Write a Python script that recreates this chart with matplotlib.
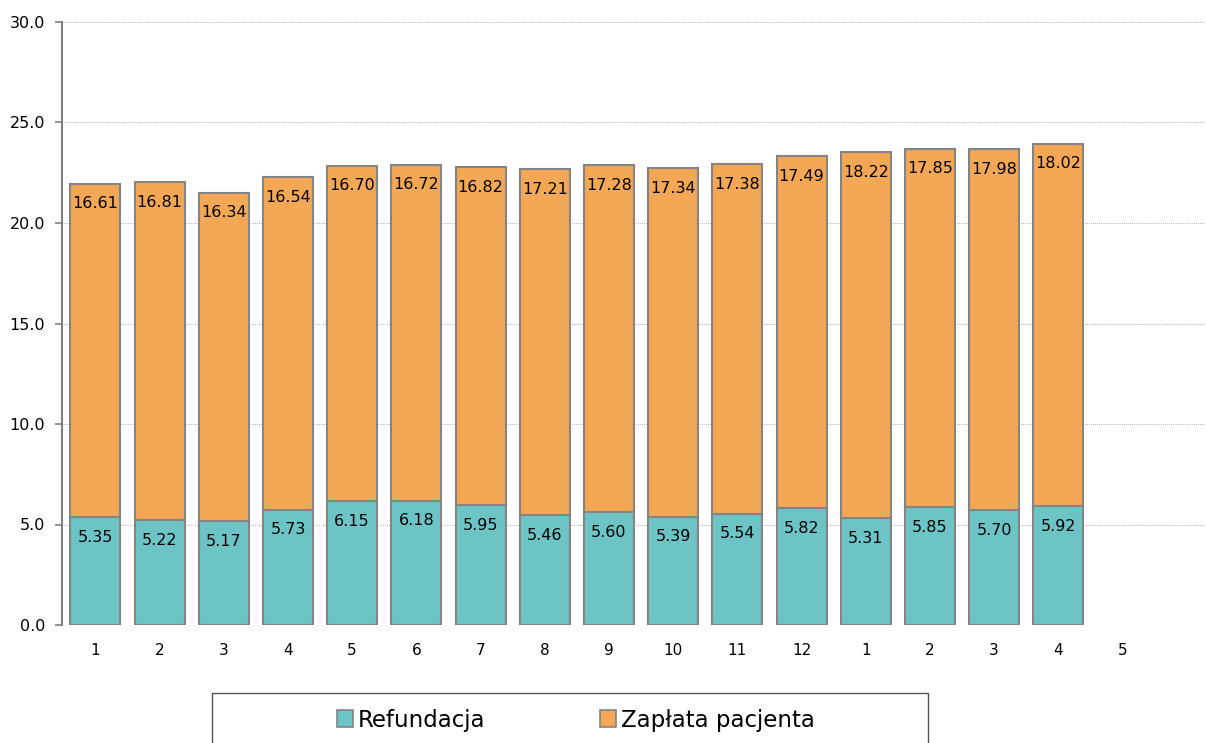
import matplotlib
matplotlib.use("Agg")
import matplotlib.pyplot as plt
from matplotlib.patches import Rectangle, Patch
import numpy as np

# month labels (last one has no data yet)
months = ["1", "2", "3", "4", "5", "6", "7", "8", "9", "10", "11", "12",
          "1", "2", "3", "4", "5"]
refundacja = [5.35, 5.22, 5.17, 5.73, 6.15, 6.18, 5.95, 5.46, 5.60, 5.39,
              5.54, 5.82, 5.31, 5.85, 5.70, 5.92]
zaplata = [16.61, 16.81, 16.34, 16.54, 16.70, 16.72, 16.82, 17.21, 17.28,
           17.34, 17.38, 17.49, 18.22, 17.85, 17.98, 18.02]

teal = "#6cc4c6"
orange = "#f4a755"
edge = "#848484"

fig = plt.figure(figsize=(12.06, 7.43), dpi=100)
ax = fig.add_axes([62 / 1206, 1 - 625 / 743, (1206 - 62) / 1206, (625 - 22) / 743])

x = np.arange(len(refundacja))
ax.bar(x, refundacja, width=0.78, color=teal, edgecolor=edge, linewidth=1.5, zorder=3)
ax.bar(x, zaplata, width=0.78, bottom=refundacja, color=orange, edgecolor=edge,
       linewidth=1.5, zorder=3)

for i in range(len(refundacja)):
    ax.annotate("%.2f" % refundacja[i], (x[i], refundacja[i]), xytext=(0, -9),
                textcoords="offset points", ha="center", va="top", fontsize=11.5, zorder=4)
    top = refundacja[i] + zaplata[i]
    ax.annotate("%.2f" % zaplata[i], (x[i], top), xytext=(0, -9),
                textcoords="offset points", ha="center", va="top", fontsize=11.5, zorder=4)

ax.set_xlim(-0.52, 17.3)
ax.set_ylim(0, 30)
ax.set_xticks(np.arange(len(months)))
ax.set_xticklabels(months)
ax.set_yticks(np.arange(0, 31, 5))
ax.set_yticklabels(["%.1f" % v for v in np.arange(0, 31, 5)])
ax.tick_params(axis="x", length=0, pad=13, labelsize=11)
ax.tick_params(axis="y", length=5, width=1.2, color="#808080", labelsize=11.5, pad=7)
ax.yaxis.grid(True, linestyle=(0, (1, 1)), color="#b8b8b8", linewidth=0.7, zorder=0)
for s in ["top", "right", "bottom"]:
    ax.spines[s].set_visible(False)
ax.spines["left"].set_color("#808080")
ax.spines["left"].set_linewidth(1.5)

# legend box (cut off at bottom edge like the original)
fig.patches.append(Rectangle((212 / 1206, -0.05), (928 - 212) / 1206, 0.05 + 50 / 743,
                             transform=fig.transFigure, fill=False, edgecolor="#555555",
                             linewidth=1))
handles = [Patch(facecolor=teal, edgecolor=edge, linewidth=1.2),
           Patch(facecolor=orange, edgecolor=edge, linewidth=1.2)]
fig.legend(handles, ["Refundacja", "Zapłata pacjenta"], loc="center",
           bbox_to_anchor=(0.4776, 23 / 743), ncol=2, frameon=False, fontsize=16.5,
           handlelength=0.7, handleheight=0.7, handletextpad=0.2, columnspacing=5.0)

fig.savefig("out.png", dpi=100)
